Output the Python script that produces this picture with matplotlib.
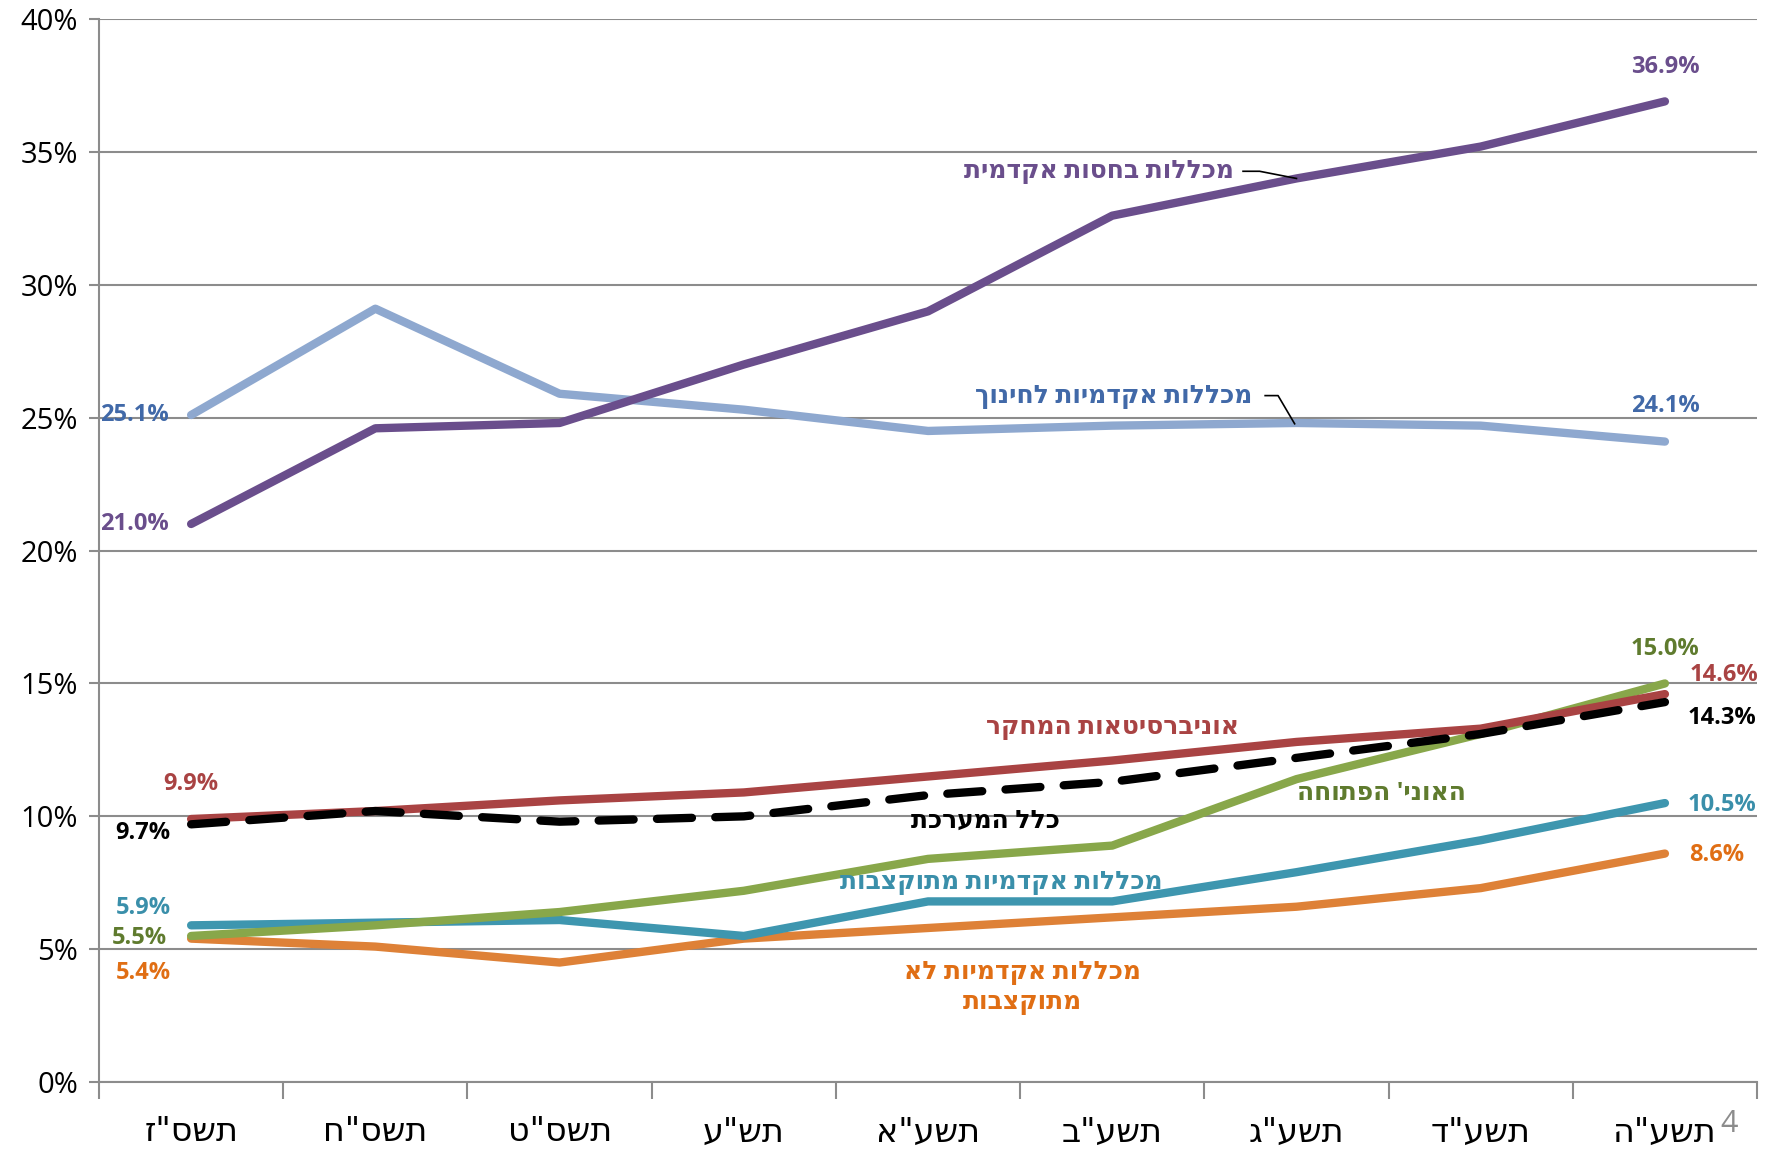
import matplotlib
matplotlib.use("Agg")
import matplotlib.pyplot as plt
from matplotlib.ticker import FuncFormatter, MultipleLocator, FixedLocator

plt.rcParams['font.family'] = ['Open Sans', 'DejaVu Sans']

def rtl(s):
    return s[::-1]

years = ['תשס"ז', 'תשס"ח', 'תשס"ט', 'תש"ע', 'תשע"א', 'תשע"ב', 'תשע"ג', 'תשע"ד', 'תשע"ה']

sponsored = [21.0, 24.6, 24.8, 27.0, 29.0, 32.6, 34.0, 35.2, 36.9]
education = [25.1, 29.1, 25.9, 25.3, 24.5, 24.7, 24.8, 24.7, 24.1]
research = [9.9, 10.2, 10.6, 10.9, 11.5, 12.1, 12.8, 13.3, 14.6]
total = [9.7, 10.2, 9.8, 10.0, 10.8, 11.3, 12.2, 13.1, 14.3]
open_univ = [5.5, 5.9, 6.4, 7.2, 8.4, 8.9, 11.4, 13.1, 15.0]
budgeted = [5.9, 6.0, 6.1, 5.5, 6.8, 6.8, 7.9, 9.1, 10.5]
non_budgeted = [5.4, 5.1, 4.5, 5.4, 5.8, 6.2, 6.6, 7.3, 8.6]

fig = plt.figure(figsize=(17.68, 11.5), dpi=100)
ax = fig.add_axes([0.056, 0.059, 0.9378, 0.9245])

x = list(range(len(years)))
lw = 6
ax.plot(x, education, color='#8EA8CF', lw=lw, solid_capstyle='round', zorder=3)
ax.plot(x, sponsored, color='#6A4E8C', lw=lw, solid_capstyle='round', zorder=3)
ax.plot(x, non_budgeted, color='#DE8137', lw=lw, solid_capstyle='round', zorder=3)
ax.plot(x, budgeted, color='#3E96AF', lw=lw, solid_capstyle='round', zorder=3)
ax.plot(x, open_univ, color='#88A74A', lw=lw, solid_capstyle='round', zorder=3)
ax.plot(x, research, color='#A94343', lw=lw, solid_capstyle='round', zorder=4)
ax.plot(x, total, color='black', lw=lw, dashes=(4.2, 2.8), dash_capstyle='round', zorder=5)

ax.set_xlim(-0.5, 8.5)
ax.set_ylim(0, 40)
ax.yaxis.set_major_locator(MultipleLocator(5))
ax.yaxis.set_major_formatter(FuncFormatter(lambda v, p: f'{int(v)}%'))
ax.grid(axis='y', color='#8C8C8C', lw=1.5, zorder=0)
ax.set_axisbelow(True)

ax.set_xticks(x)
ax.set_xticklabels([rtl(y) for y in years], fontsize=24, family=['DejaVu Sans'])
ax.xaxis.set_minor_locator(FixedLocator([i - 0.5 for i in range(len(years) + 1)]))
ax.tick_params(axis='x', which='major', length=0, pad=24)
ax.tick_params(axis='x', which='minor', length=12, width=1.5, color='#8C8C8C')
ax.tick_params(axis='y', which='major', length=7, width=1.5, color='#8C8C8C', labelsize=21, pad=8)

for s in ['top', 'right']:
    ax.spines[s].set_visible(False)
for s in ['left', 'bottom']:
    ax.spines[s].set_color('#8C8C8C')
    ax.spines[s].set_linewidth(1.5)

vfs = 17
def vlabel(xx, yy, txt, color, ha='center'):
    ax.text(xx, yy, txt, color=color, fontsize=vfs, fontweight='bold', ha=ha, va='center', zorder=6)

vlabel(-0.31, sponsored[0], f'{sponsored[0]:.1f}%', '#6A4E8C')
vlabel(-0.31, education[0], f'{education[0]:.1f}%', '#4169A8')
vlabel(0.0, 11.2, f'{research[0]:.1f}%', '#A94343')
vlabel(-0.26, 9.37, f'{total[0]:.1f}%', 'black')
vlabel(-0.26, 6.57, f'{budgeted[0]:.1f}%', '#3A8FAA')
vlabel(-0.28, 5.43, f'{open_univ[0]:.1f}%', '#5F7B2E')
vlabel(-0.26, 4.11, f'{non_budgeted[0]:.1f}%', '#E06E14')

vlabel(8.0, 38.2, f'{sponsored[-1]:.1f}%', '#6A4E8C')
vlabel(8.0, 25.45, f'{education[-1]:.1f}%', '#4169A8')
vlabel(8.0, 16.29, f'{open_univ[-1]:.1f}%', '#5F7B2E')
vlabel(8.32, 15.31, f'{research[-1]:.1f}%', '#A94343')
vlabel(8.31, 13.7, f'{total[-1]:.1f}%', 'black')
vlabel(8.31, 10.43, f'{budgeted[-1]:.1f}%', '#3A8FAA')
vlabel(8.28, 8.53, f'{non_budgeted[-1]:.1f}%', '#E06E14')

nfs = 18
def nlabel(xx, yy, txt, color, ha='center'):
    ax.text(xx, yy, txt, color=color, fontsize=nfs, fontweight='bold', ha=ha, va='center', zorder=6,
            linespacing=1.25)

nlabel(5.66, 34.27, rtl('מכללות בחסות אקדמית'), '#6A4E8C', ha='right')
nlabel(5.76, 25.8, rtl('מכללות אקדמיות לחינוך'), '#4169A8', ha='right')
nlabel(5.0, 13.36, rtl('אוניברסיטאות המחקר'), '#A94343')
nlabel(4.31, 9.8, rtl('כלל המערכת'), 'black')
nlabel(6.46, 10.86, rtl("האוני' הפתוחה"), '#5F7B2E')
nlabel(4.40, 7.5, rtl('מכללות אקדמיות מתוקצבות'), '#3A8FAA')
nlabel(4.51, 3.55, rtl('מכללות אקדמיות לא') + '\n' + rtl('מתוקצבות'), '#E06E14')

ax.plot([5.71, 5.80, 6.0], [34.27, 34.27, 34.0], color='black', lw=1.2, zorder=6)
ax.plot([5.83, 5.90, 5.99], [25.83, 25.83, 24.77], color='black', lw=1.2, zorder=6)

fig.text(0.978, 0.01, '4', fontsize=22, color='#8C8C8C', ha='center', va='bottom')

fig.savefig('out.png', dpi=100)
